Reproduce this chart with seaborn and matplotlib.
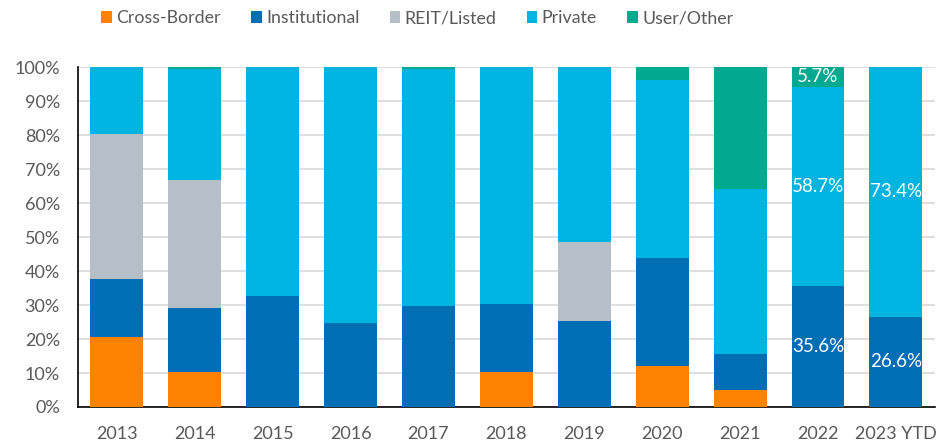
import matplotlib
matplotlib.use("Agg")
import matplotlib.pyplot as plt
import seaborn as sns
import numpy as np
import pandas as pd
from matplotlib.patches import Patch

years = ["2013", "2014", "2015", "2016", "2017", "2018", "2019", "2020", "2021", "2022", "2023 YTD"]
cross_border = [20.6, 10.4, 0.0, 0.0, 0.0, 10.4, 0.0, 12.0, 5.0, 0.0, 0.0]
institutional = [17.0, 18.8, 32.6, 24.7, 29.8, 19.8, 25.2, 31.9, 10.7, 35.6, 26.6]
reit_listed = [42.6, 37.5, 0.0, 0.0, 0.0, 0.0, 23.3, 0.0, 0.0, 0.0, 0.0]
private = [19.8, 32.9, 67.4, 75.3, 69.6, 69.8, 51.5, 52.2, 48.3, 58.7, 73.4]
user_other = [0.0, 0.4, 0.0, 0.0, 0.6, 0.0, 0.0, 3.9, 36.0, 5.7, 0.0]

series_names = ["Cross-Border", "Institutional", "REIT/Listed", "Private", "User/Other"]
series_vals = [cross_border, institutional, reit_listed, private, user_other]
colors = ["#FF8200", "#006EB5", "#B6BFC8", "#00B4E1", "#00A98F"]

# labelled segments: (year index, series index)
labelled = [(9, 1), (9, 3), (9, 4), (10, 1), (10, 3)]

sns.set_theme(style="white")
plt.rcParams["font.family"] = ["Lato", "DejaVu Sans"]

fig = plt.figure(figsize=(9.51, 4.45), dpi=100)
ax = fig.add_axes([0.082, 0.0854, 0.901, 0.7637])

cum = np.cumsum(np.array(series_vals), axis=0)
for i in range(len(series_names) - 1, -1, -1):
    df = pd.DataFrame({"year": years, "v": cum[i]})
    sns.barplot(data=df, x="year", y="v", color=colors[i], width=0.68,
                linewidth=0, saturation=1, ax=ax, zorder=3)

for (yi, si) in labelled:
    bottom = cum[si - 1][yi] if si > 0 else 0
    val = series_vals[si][yi]
    ax.text(yi, bottom + val / 2, f"{val:.1f}%", ha="center", va="center",
            color="white", fontsize=13.5, zorder=5)

ax.set_xlim(-0.5, 10.5)
ax.set_ylim(0, 100)
ax.set_yticks(np.arange(0, 101, 10))
ax.set_yticklabels([f"{t}%" for t in range(0, 101, 10)])
ax.set_xlabel("")
ax.set_ylabel("")
ax.yaxis.grid(True, color="#D9D9D9", linewidth=1.2, zorder=0)
ax.set_axisbelow(True)
for s in ["top", "right"]:
    ax.spines[s].set_visible(False)
for s in ["left", "bottom"]:
    ax.spines[s].set_color("black")
    ax.spines[s].set_linewidth(1.2)
ax.tick_params(axis="both", length=0, labelsize=13, labelcolor="#595959")
ax.tick_params(axis="x", pad=14)
ax.tick_params(axis="y", pad=13)

handles = [Patch(facecolor=c, edgecolor="none") for c in colors]
fig.legend(handles, series_names, loc="center left", bbox_to_anchor=(101 / 951, 1 - 18 / 445),
           ncol=5, frameon=False, fontsize=12.8, handlelength=0.6, handleheight=0.68,
           handletextpad=0.25, columnspacing=1.7, labelcolor="#595959",
           borderpad=0, borderaxespad=0)

fig.savefig("out.png", dpi=100)
